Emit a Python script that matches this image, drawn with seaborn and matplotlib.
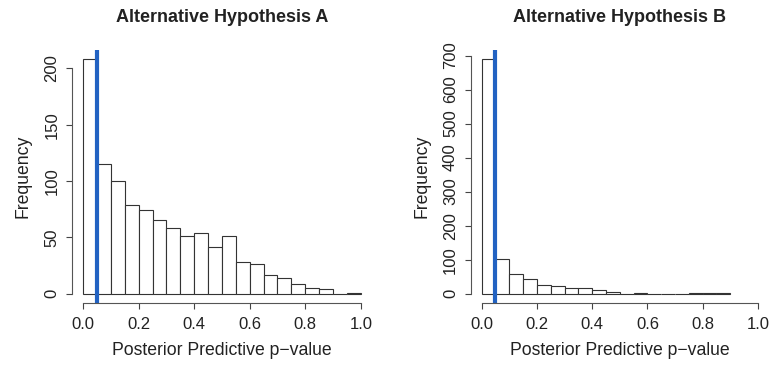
import numpy as np
import pandas as pd
import seaborn as sns
import matplotlib.pyplot as plt

# histogram counts (bin width 0.05)
edges_a = np.linspace(0, 1.0, 21)
counts_a = [208, 115, 100, 79, 74, 65, 58, 51, 54, 41,
            51, 28, 26, 17, 14, 9, 5, 4, 0, 1]

edges_b = np.linspace(0, 0.9, 19)
counts_b = [689, 103, 59, 43, 24, 22, 17, 17, 11, 6,
            0, 3, 0, 0, 0, 1, 1, 1]

cutoff = 0.05
titles = ["Alternative Hypothesis A", "Alternative Hypothesis B"]
yticks_a = [0, 50, 100, 150, 200]
yticks_b = [0, 100, 200, 300, 400, 500, 600, 700]
xticks = [0.0, 0.2, 0.4, 0.6, 0.8, 1.0]

sns.set_theme(style="white")
plt.rcParams['font.family'] = ['Liberation Sans', 'DejaVu Sans']
plt.rcParams['text.color'] = '#222222'
plt.rcParams['axes.labelcolor'] = '#222222'
plt.rcParams['xtick.color'] = '#444444'
plt.rcParams['ytick.color'] = '#444444'


def draw_panel(ax, edges, counts, title, yticks):
    mids = (edges[:-1] + edges[1:]) / 2
    df = pd.DataFrame({'p': mids, 'n': counts})
    sns.histplot(data=df, x='p', weights='n', bins=edges.tolist(), ax=ax,
                 color='white', edgecolor='#333333', linewidth=0.8,
                 alpha=1, stat='count')
    ax.axvline(cutoff, color='#2262c2', linewidth=3)

    ymax = max(counts)
    ax.set_xlim(-0.04, 1.04)
    ax.set_ylim(-0.04 * ymax, 1.04 * ymax)
    for s in ['top', 'right']:
        ax.spines[s].set_visible(False)
    for s in ['left', 'bottom']:
        ax.spines[s].set_color('#555555')
        ax.spines[s].set_linewidth(0.8)
    ax.spines['bottom'].set_bounds(0, 1)
    ax.spines['left'].set_bounds(yticks[0], yticks[-1])

    ax.set_xticks(xticks)
    ax.set_xticklabels([f"{t:.1f}" for t in xticks])
    ax.set_yticks(yticks)
    ax.set_yticklabels([str(t) for t in yticks], rotation=90, va='center')
    ax.tick_params(axis='both', direction='out', length=4, width=0.8,
                   labelsize=12, bottom=True, left=True, labelcolor='#222222')
    ax.tick_params(axis='x', pad=6)
    ax.tick_params(axis='y', pad=5)

    ax.set_xlabel("Posterior Predictive p\u2212value", fontsize=12.7, labelpad=7)
    ax.set_ylabel("Frequency", fontsize=12.7, labelpad=9)
    ax.set_title(title, fontsize=13, fontweight='bold', pad=20)
    ax.grid(False)


fig = plt.figure(figsize=(7.73, 3.70), dpi=100)
ax1 = fig.add_axes([0.0931, 0.181, 0.388, 0.684])
ax2 = fig.add_axes([0.6088, 0.181, 0.386, 0.684])

draw_panel(ax1, edges_a, counts_a, titles[0], yticks_a)
draw_panel(ax2, edges_b, counts_b, titles[1], yticks_b)

fig.savefig("out.png", dpi=100)
